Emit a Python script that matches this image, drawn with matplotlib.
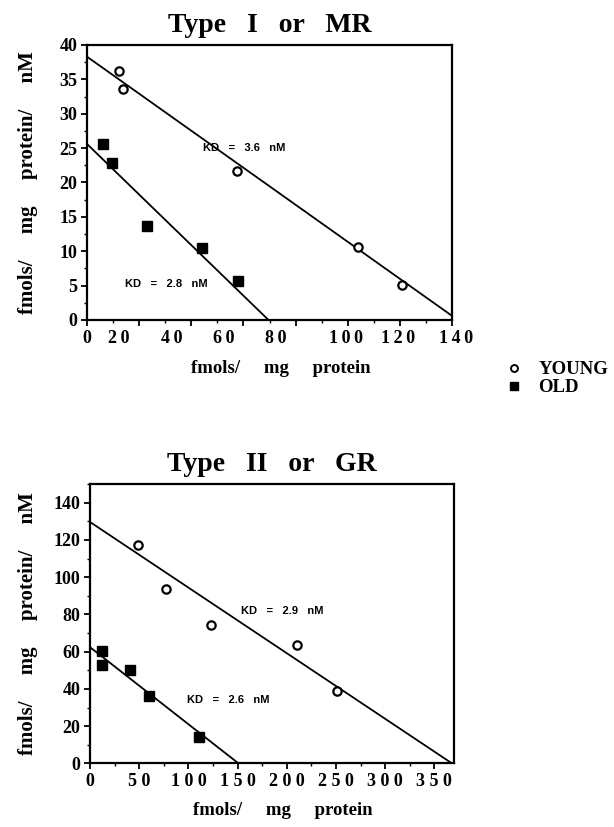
import matplotlib
matplotlib.use("Agg")
import matplotlib.pyplot as plt
from matplotlib.lines import Line2D
from matplotlib.transforms import ScaledTranslation
import numpy as np

# ---- Data: Type I or MR ----
mr_young_x = [12.4, 13.9, 57.4, 103.8, 120.8]
mr_young_y = [36.2, 33.6, 21.7, 10.6, 5.1]
mr_old_x = [6.0, 9.5, 22.9, 44.0, 57.8]
mr_old_y = [25.6, 22.9, 13.7, 10.4, 5.7]
mr_young_fit_x = [0, 140]
mr_young_fit_y = [38.3, 0.6]
mr_old_fit_x = [0, 69.6]
mr_old_fit_y = [25.6, 0]

# ---- Data: Type II or GR ----
gr_young_x = [48.3, 77.6, 123.0, 209.9, 251.0]
gr_young_y = [117.2, 93.5, 74.5, 63.6, 38.7]
gr_old_x = [11.9, 11.9, 40.8, 59.5, 111.2]
gr_old_y = [60.6, 53.0, 50.0, 36.2, 14.0]
gr_young_fit_x = [0, 368]
gr_young_fit_y = [129.6, 0]
gr_old_fit_x = [0, 151]
gr_old_fit_y = [62.4, 0]

mr_xticks = [0, 20, 40, 60, 80, 100, 120, 140]
mr_xticklabels = ["0", "2\u20090", "4\u20090", "6\u20090", "8\u20090",
                  "1\u20090\u20090", "1\u20092\u20090", "1\u20094\u20090"]
mr_yticks = [0, 5, 10, 15, 20, 25, 30, 35, 40]
gr_xticks = [0, 50, 100, 150, 200, 250, 300, 350]
gr_xticklabels = ["0", "5 0", "1 0 0", "1 5 0", "2 0 0", "2 5 0", "3 0 0", "3 5 0"]
gr_yticks = [0, 20, 40, 60, 80, 100, 120, 140]

serif = ["Liberation Serif", "DejaVu Serif"]
sans = "Liberation Sans"

fig = plt.figure(figsize=(6.14, 8.27), dpi=100)

def style_axes(ax, xticks, xlabels, yticks, xminor, yminor, xlim, ylim):
    ax.set_xlim(*xlim)
    ax.set_ylim(*ylim)
    ax.set_xticks(xticks)
    ax.set_xticklabels(xlabels)
    ax.set_yticks(yticks)
    ax.set_xticks(xminor, minor=True)
    ax.set_yticks(yminor, minor=True)
    for s in ax.spines.values():
        s.set_linewidth(1.6)
    ax.tick_params(axis="both", which="major", direction="out", length=4, width=1.3,
                   labelsize=13, pad=3)
    ax.tick_params(axis="both", which="minor", direction="out", length=2.5, width=1.0)
    for lab in ax.get_xticklabels() + ax.get_yticklabels():
        lab.set_fontfamily(serif)
        lab.set_fontweight("bold")

ylabel_text = "fmols/     mg     protein/     nM"
xlabel_text = "fmols/     mg     protein"

# ---- Top panel ----
ax1 = fig.add_axes([0.1417, 0.6131, 0.5945, 0.3325])
ax1.plot(mr_young_fit_x, mr_young_fit_y, color="black", lw=1.3)
ax1.plot(mr_old_fit_x, mr_old_fit_y, color="black", lw=1.3)
ax1.plot(mr_young_x, mr_young_y, "o", ms=6, mfc="white", mec="black", mew=1.6, clip_on=False)
ax1.plot(mr_old_x, mr_old_y, "s", ms=6.8, mfc="black", mec="black", clip_on=False)
style_axes(ax1, mr_xticks, mr_xticklabels, mr_yticks,
           np.arange(0, 141, 10), np.arange(0, 40.1, 2.5), (0, 140), (0, 40))
# two-digit labels sit left of their ticks in the original
for lab, dx in zip(ax1.get_xticklabels(), [0, -20, -20, -20, -20, -2, -2, 4]):
    lab.set_transform(lab.get_transform() + ScaledTranslation(dx / 100, 0, fig.dpi_scale_trans))
ax1.set_title("Type   I   or   MR", fontfamily=serif, fontweight="bold", fontsize=20, pad=9)
ax1.set_xlabel(xlabel_text, fontfamily=serif, fontweight="bold", fontsize=13.5)
ax1.xaxis.set_label_coords(0.53, -0.145)
ax1.set_ylabel(ylabel_text, fontfamily=serif, fontweight="bold", fontsize=15)
ax1.yaxis.set_label_coords(-0.134, 0.5)
ax1.text(44.5, 25.0, "KD   =   3.6   nM", fontfamily=sans, fontweight="bold", fontsize=8, va="center")
ax1.text(14.6, 5.2, "KD   =   2.8   nM", fontfamily=sans, fontweight="bold", fontsize=8, va="center")

# ---- Bottom panel ----
ax2 = fig.add_axes([0.1466, 0.0768, 0.593, 0.338])
ax2.plot(gr_young_fit_x, gr_young_fit_y, color="black", lw=1.3)
ax2.plot(gr_old_fit_x, gr_old_fit_y, color="black", lw=1.3)
ax2.plot(gr_young_x, gr_young_y, "o", ms=6, mfc="white", mec="black", mew=1.6, clip_on=False)
ax2.plot(gr_old_x, gr_old_y, "s", ms=6.8, mfc="black", mec="black", clip_on=False)
style_axes(ax2, gr_xticks, gr_xticklabels, gr_yticks,
           np.arange(0, 370, 25), np.arange(0, 150.1, 10), (0, 370), (0, 150))
ax2.set_title("Type   II   or   GR", fontfamily=serif, fontweight="bold", fontsize=20, pad=9)
ax2.set_xlabel(xlabel_text, fontfamily=serif, fontweight="bold", fontsize=13.5)
ax2.xaxis.set_label_coords(0.53, -0.138)
ax2.set_ylabel(ylabel_text, fontfamily=serif, fontweight="bold", fontsize=15)
ax2.yaxis.set_label_coords(-0.143, 0.5)
ax2.text(153, 82, "KD   =   2.9   nM", fontfamily=sans, fontweight="bold", fontsize=8, va="center")
ax2.text(98.6, 33.9, "KD   =   2.6   nM", fontfamily=sans, fontweight="bold", fontsize=8, va="center")

# ---- Legend ----
handles = [Line2D([], [], marker="o", ls="none", ms=5, mfc="white", mec="black", mew=1.4),
           Line2D([], [], marker="s", ls="none", ms=5.5, mfc="black", mec="black")]
fig.legend(handles, ["YOUNG", "OLD"], loc="center left",
           bbox_to_anchor=(0.81, 0.542), frameon=False,
           prop={"family": serif, "weight": "bold", "size": 13.5},
           handletextpad=0.9, labelspacing=0.05, handlelength=0.8, borderpad=0)

fig.savefig("out.png", dpi=100)
